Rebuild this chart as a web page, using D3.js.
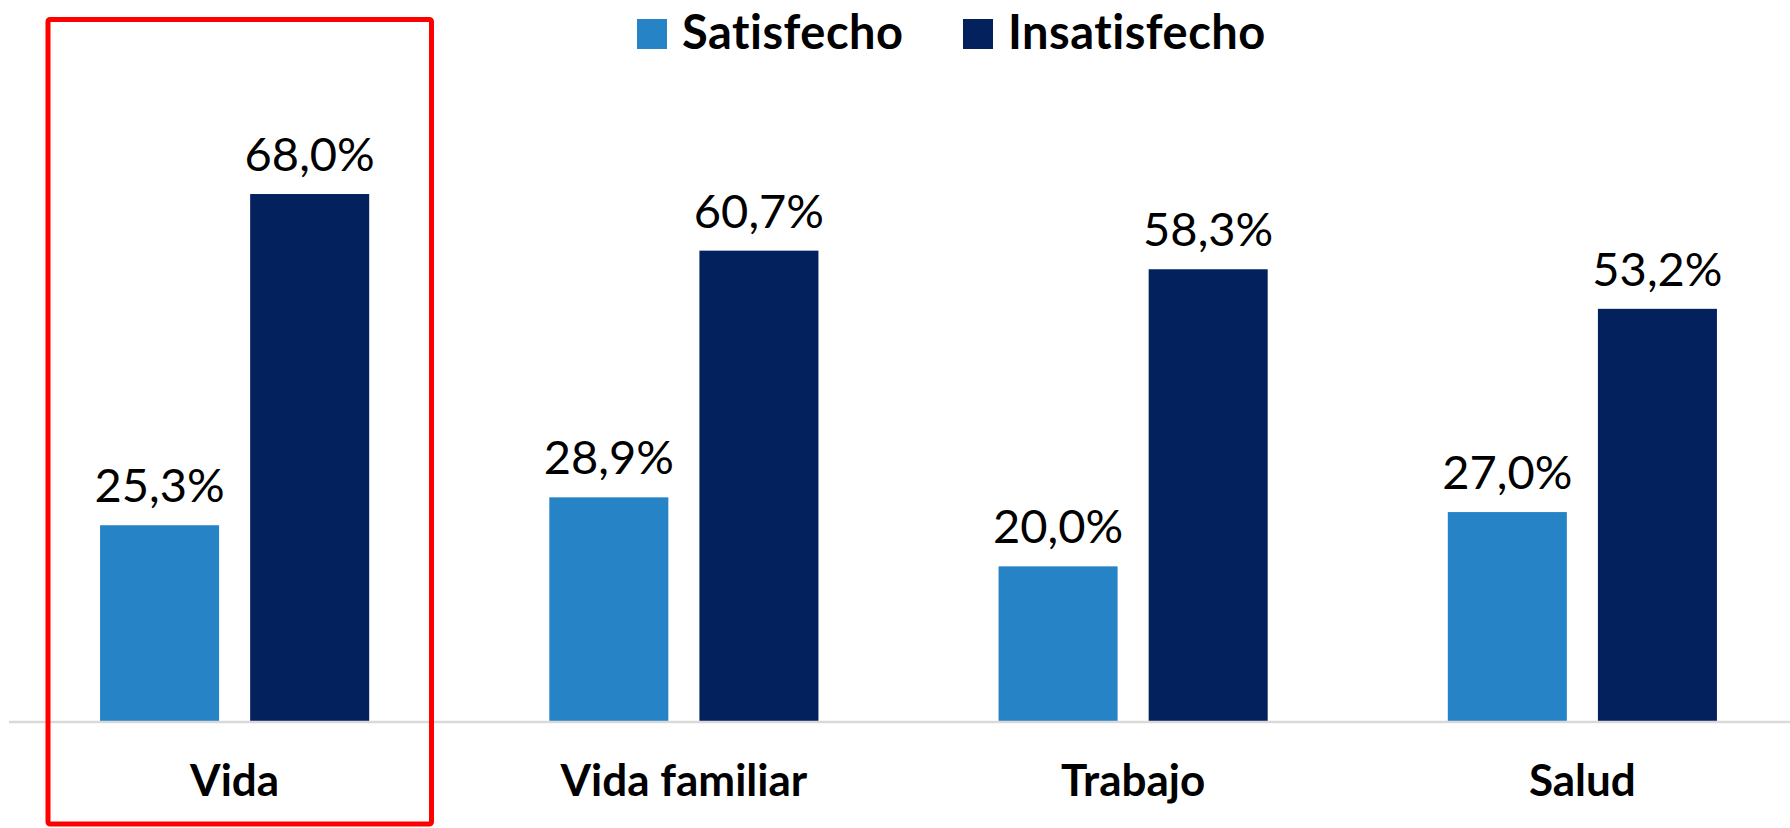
<!DOCTYPE html>
<html>
<head>
<meta charset="utf-8">
<script src="https://cdn.jsdelivr.net/npm/d3@7"></script>
<style>
  body { margin: 0; background: #fff; }
  svg { display: block; font-family: Lato, "Open Sans", sans-serif; }
</style>
</head>
<body>
<div id="chart"></div>
<script>
const categories = ['Vida', 'Vida familiar', 'Trabajo', 'Salud']
const series = ['Satisfecho', 'Insatisfecho']
const satisfecho = [25.3, 28.9, 20.0, 27.0]
const insatisfecho = [68.0, 60.7, 58.3, 53.2]
const colors = ['#2683C6', '#03215C']
const highlighted = 'Vida'

const width = 1790
const height = 828
const baseline = 721.5

const fmt = v => d3.format('.1f')(v).replace('.', ',') + '%'

const rows = categories.map((c, i) => ({
  cat: c,
  values: [
    { key: series[0], value: satisfecho[i] },
    { key: series[1], value: insatisfecho[i] }
  ]
}))

const svg = d3.select('#chart')
  .append('svg')
  .attr('width', width)
  .attr('height', height)

const x0 = d3.scaleBand()
  .domain(categories)
  .range([10, 1807])

const x1 = d3.scaleBand()
  .domain(series)
  .range([0, x0.bandwidth()])
  .paddingInner(0.207)
  .paddingOuter(0.6)

const y = d3.scaleLinear()
  .domain([0, 80])
  .range([baseline, baseline - 80 * 7.757])

const color = d3.scaleOrdinal().domain(series).range(colors)

// bars
const groups = svg.append('g')
  .selectAll('g')
  .data(rows)
  .join('g')
  .attr('transform', d => `translate(${x0(d.cat)},0)`)

groups.selectAll('rect')
  .data(d => d.values)
  .join('rect')
  .attr('x', d => x1(d.key))
  .attr('y', d => y(d.value))
  .attr('width', x1.bandwidth())
  .attr('height', d => y(0) - y(d.value))
  .attr('fill', d => color(d.key))

groups.selectAll('text.value')
  .data(d => d.values)
  .join('text')
  .attr('class', 'value')
  .attr('x', d => x1(d.key) + x1.bandwidth() / 2)
  .attr('y', d => y(d.value) - 23)
  .attr('text-anchor', 'middle')
  .attr('style', 'font-size: 47px')
  .attr('fill', '#000')
  .text(d => fmt(d.value))

// axis
const xAxis = svg.append('g')
  .attr('transform', `translate(0,${baseline})`)
  .call(d3.axisBottom(x0).tickSize(0).tickPadding(0))

xAxis.select('.domain')
  .attr('d', `M9,0.5H${width}`)
  .attr('stroke', '#D9D9D9')
  .attr('stroke-width', 2.5)

xAxis.selectAll('text')
  .attr('y', 74)
  .attr('dy', 0)
  .attr('fill', '#000')
  .attr('style', 'font-size: 44px; font-weight: bold; font-family: Lato, sans-serif')

// legend
const legendItems = [
  { key: series[0], x: 637 },
  { key: series[1], x: 963 }
]
const lg = svg.append('g')
  .selectAll('g')
  .data(legendItems)
  .join('g')
  .attr('transform', d => `translate(${d.x},19)`)

lg.append('rect')
  .attr('width', 30)
  .attr('height', 30)
  .attr('fill', d => color(d.key))

lg.append('text')
  .attr('x', 45)
  .attr('y', 30)
  .attr('style', 'font-size: 47px; font-weight: bold; letter-spacing: 0.5px')
  .attr('fill', '#000')
  .text(d => d.key)

// highlight frame around one category
const pad = 38
svg.append('rect')
  .attr('x', x0(highlighted) + pad)
  .attr('y', 19.5)
  .attr('width', 431.5 - 48)
  .attr('height', 824 - 19.5)
  .attr('rx', 2)
  .attr('fill', 'none')
  .attr('stroke', '#FF0000')
  .attr('stroke-width', 5)
</script>
</body>
</html>
